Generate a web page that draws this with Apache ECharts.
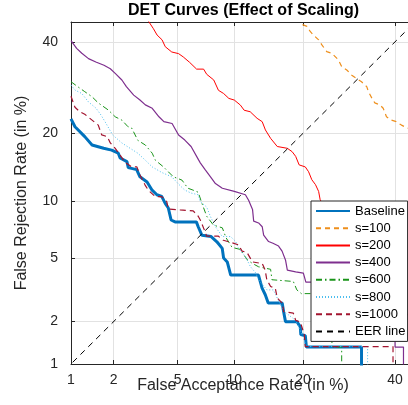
<!DOCTYPE html>
<html>
<head>
<meta charset="utf-8">
<script src="https://cdn.jsdelivr.net/npm/echarts@6/dist/echarts.min.js"></script>
<style>
  body { margin: 0; background: #fff; }
  #chart { width: 408px; height: 405px; }
</style>
</head>
<body>
<div id="chart"></div>
<script>
// tick labels (percent) used on both axes
const tickPct = [1, 2, 5, 10, 20, 40]
const axisMinPct = 1
const axisMaxPct = 45

// each curve: [false acceptance %, false rejection %]
const baseline = [[1.0,22.7],[1.07,21.2],[1.26,19.4],[1.42,17.95],[1.71,17.4],[1.94,17.1],[2.15,16.6],[2.21,15.85],[2.45,15.3],[2.5,14.4],[2.83,14.1],[2.97,13.1],[3.29,12.4],[3.52,11.4],[3.78,10.8],[4.04,10.6],[4.24,9.8],[4.42,9.3],[4.59,8.08],[4.84,7.9],[6.37,7.9],[6.52,7.45],[6.83,6.7],[7.64,6.6],[8.18,6.18],[8.71,5.68],[8.85,5.0],[9.23,4.75],[9.6,3.97],[12.99,3.97],[13.25,3.6],[13.48,3.3],[13.93,3.0],[14.35,2.66],[16.47,2.66],[16.7,2.33],[17.0,2.0],[18.9,2.0],[19.5,1.85],[19.6,1.63],[20.4,1.6],[20.6,1.33],[32.0,1.33],[32.0,0.9]]
const s100 = [[19.5,46.5],[19.8,44.4],[20.7,43.9],[21.3,42.6],[21.9,41.7],[22.9,40.5],[23.5,39.3],[24.5,37.6],[25.5,37.2],[26.9,35.6],[27.6,34.0],[28.7,33.2],[29.8,32.0],[30.9,31.2],[32.0,30.5],[33.2,29.4],[33.6,28.3],[34.4,26.9],[35.1,25.9],[36.3,25.5],[37.1,24.8],[37.9,23.1],[39.1,22.45],[40.3,22.15],[41.6,21.5],[42.4,21.2],[43.7,20.8],[46,20.3]]
const s200 = [[3.2,46.5],[3.6,43.3],[3.79,41.7],[4.06,40.5],[4.24,38.8],[4.63,37.5],[5.07,37.1],[5.39,36.3],[5.85,35.0],[6.39,33.4],[6.97,33.4],[7.24,32.2],[7.88,30.9],[8.33,28.6],[8.85,27.9],[9.4,26.85],[10.0,26.5],[10.7,25.45],[11.15,24.4],[11.9,24.1],[12.8,22.8],[13.5,22.15],[13.95,20.6],[14.7,19.1],[15.7,17.7],[17.3,17.4],[18.1,16.85],[18.7,16.1],[19.3,14.8],[20.4,14.5],[21.0,13.8],[21.6,12.7],[22.3,12.05],[22.9,11.2],[23.2,10.2],[25.3,8.6],[28.5,6.7],[31.9,5.2],[35.4,4.0],[39.1,3.0],[43.0,2.25],[47.0,1.6]]
const s400 = [[1.0,40.3],[1.1,38.4],[1.2,37.2],[1.34,35.9],[1.51,35.1],[1.72,34.3],[1.9,33.5],[2.05,32.4],[2.27,30.9],[2.43,29.4],[2.71,27.55],[2.97,26.5],[3.21,25.5],[3.54,24.8],[3.89,23.1],[4.16,22.15],[4.65,21.8],[5.07,19.7],[5.5,18.8],[5.96,17.7],[6.55,15.55],[6.69,15.1],[7.1,14.1],[7.58,13.1],[8.04,12.2],[8.72,11.6],[10.0,11.2],[11.3,10.8],[11.7,10.15],[12.2,9.15],[12.35,7.97],[13.0,7.8],[13.5,7.45],[13.7,6.72],[14.4,6.2],[15.05,6.06],[15.9,5.85],[16.45,5.48],[17.0,4.88],[17.3,4.25],[18.7,4.15],[20.05,4.08],[20.5,3.6],[21.8,3.6],[25.0,3.0],[29.5,2.4],[34.2,2.0],[37.6,1.7],[40.0,1.5],[40.0,1.33],[42.1,1.33],[42.1,0.9]]
const s600 = [[1.0,30.5],[1.12,29.4],[1.26,28.3],[1.42,27.2],[1.57,25.9],[1.84,24.45],[2.05,23.1],[2.27,22.45],[2.49,21.2],[2.63,20.95],[2.88,18.75],[3.21,17.95],[3.54,16.6],[3.7,15.5],[4.14,14.5],[4.42,13.8],[4.73,13.1],[5.3,12.65],[5.72,11.6],[6.1,11.37],[6.52,11.1],[6.83,9.8],[7.24,8.45],[7.85,7.6],[8.72,7.35],[9.09,6.52],[9.75,5.75],[10.7,5.6],[11.5,4.9],[12.2,4.65],[13.0,4.45],[13.5,4.4],[14.7,4.3],[14.9,3.72],[18.3,3.63],[18.9,3.22],[19.7,3.05],[21.3,3.05],[22.8,2.6],[24.2,2.04],[25.2,1.6],[25.8,1.33],[27.6,1.33],[27.6,0.9]]
const s800 = [[1.0,29.75],[1.07,28.65],[1.2,27.9],[1.34,26.1],[1.51,24.85],[1.64,23.45],[1.77,21.9],[1.97,19.7],[2.27,18.3],[2.57,17.4],[2.88,16.6],[3.21,15.5],[3.54,14.5],[4.04,13.7],[4.63,13.1],[5.03,12.2],[5.49,11.37],[5.96,11.0],[6.52,10.8],[6.69,10.0],[7.24,9.4],[7.58,8.4],[8.04,7.45],[8.72,6.6],[9.59,6.6],[10.15,6.2],[10.47,5.7],[11.3,5.1],[11.94,4.45],[12.6,4.1],[13.0,3.72],[14.15,3.22],[15.1,3.22],[15.7,2.86],[16.7,2.35],[18.7,2.04],[19.9,1.6],[20.6,1.34],[33.4,1.34],[33.4,0.9]]
const s1000 = [[1.0,27.3],[1.07,25.0],[1.16,24.1],[1.26,23.6],[1.42,22.45],[1.57,21.5],[1.66,19.7],[1.81,19.4],[1.9,18.3],[2.05,17.4],[2.21,16.3],[2.38,15.2],[2.63,14.5],[2.84,14.5],[2.97,13.35],[3.2,12.0],[3.35,11.35],[3.7,10.57],[4.04,10.57],[4.33,10.0],[4.42,9.2],[5.17,9.1],[6.12,9.0],[6.52,8.45],[6.69,8.08],[7.1,7.0],[7.23,6.64],[8.3,6.64],[8.82,6.3],[9.75,6.1],[10.45,5.95],[10.9,5.48],[11.5,5.38],[12.2,4.75],[13.5,4.65],[13.9,4.27],[14.15,3.72],[14.7,3.38],[15.4,3.3],[15.7,2.86],[16.5,2.65],[16.7,2.33],[18.3,2.28],[18.7,2.04],[19.5,1.99],[20.2,1.64],[20.4,1.34],[39.5,1.34],[39.5,0.9]]
const eerLine = [[0.9,0.9],[50,50]]

const fontFamily = "'Liberation Sans', Arial, Helvetica, sans-serif"

// inverse normal CDF (Acklam), DET plots use normal deviate scale
function probit(p) {
  const a = [-39.69683028665376, 220.9460984245205, -275.9285104469687, 138.3577518672690, -30.66479806614716, 2.506628274631000]
  const b = [-54.47609879822406, 161.5858368580409, -155.6989798598866, 66.80131188771972, -13.28068155288572]
  const c = [-0.007784894002430293, -0.3223964580411365, -2.400758277161838, -2.549732539343734, 4.374664141464968, 2.938163982698783]
  const d = [0.007784695709041462, 0.3224671290700398, 2.445134137142996, 3.754408661907416]
  const pl = 0.02425
  if (p < pl) {
    const q = Math.sqrt(-2 * Math.log(p))
    return (((((c[0]*q+c[1])*q+c[2])*q+c[3])*q+c[4])*q+c[5]) / ((((d[0]*q+d[1])*q+d[2])*q+d[3])*q+1)
  }
  if (p > 1 - pl) {
    const q = Math.sqrt(-2 * Math.log(1 - p))
    return -(((((c[0]*q+c[1])*q+c[2])*q+c[3])*q+c[4])*q+c[5]) / ((((d[0]*q+d[1])*q+d[2])*q+d[3])*q+1)
  }
  const q = p - 0.5, r = q * q
  return (((((a[0]*r+a[1])*r+a[2])*r+a[3])*r+a[4])*r+a[5])*q / (((((b[0]*r+b[1])*r+b[2])*r+b[3])*r+b[4])*r+1)
}

const toDev = list => list.map(v => [probit(v[0] / 100), probit(v[1] / 100)])
const tickDev = tickPct.map(v => probit(v / 100))
const labelFmt = val => {
  let best = 0
  tickDev.forEach((t, i) => { if (Math.abs(t - val) < Math.abs(tickDev[best] - val)) best = i })
  return String(tickPct[best])
}

const axisColor = '#262626'
const axisBase = {
  type: 'value',
  min: probit(axisMinPct / 100),
  max: probit(axisMaxPct / 100),
  axisLine: { show: true, onZero: false, lineStyle: { color: axisColor, width: 1 } },
  axisTick: { show: true, inside: true, length: 4, customValues: tickDev, lineStyle: { color: axisColor } },
  axisLabel: { customValues: tickDev, formatter: labelFmt, color: axisColor, fontSize: 14, fontFamily },
  splitLine: { show: true, lineStyle: { color: '#e2e2e2', width: 1 } }
}

// series style helper
const mkSeries = (name, data, color, width, type) => ({
  name,
  type: 'line',
  data: toDev(data),
  symbol: 'none',
  clip: true,
  lineStyle: { color, width, type },
  itemStyle: { color },
  emphasis: { disabled: true }
})

const chart = echarts.init(document.getElementById('chart'))
chart.setOption({
  animation: false,
  title: {
    text: 'DET Curves (Effect of Scaling)',
    left: 128,
    top: 3,
    padding: 0,
    textStyle: { fontSize: 16, fontWeight: 'bold', color: '#000', fontFamily }
  },
  grid: { left: 71, top: 22, width: 344, height: 342, outerBoundsMode: 'none', containLabel: false },
  xAxis: [
    Object.assign({}, axisBase, {
      name: 'False Acceptance Rate (in %)',
      nameLocation: 'middle',
      nameGap: 14,
      nameMoveOverlap: false,
      nameTextStyle: { fontSize: 16, color: axisColor, fontFamily },
      axisLabel: Object.assign({}, axisBase.axisLabel, { margin: 9 })
    }),
    Object.assign({}, axisBase, {
      position: 'top',
      axisLabel: { show: false },
      splitLine: { show: false }
    })
  ],
  yAxis: Object.assign({}, axisBase, {
    name: 'False Rejection Rate (in %)',
    nameLocation: 'middle',
    nameGap: 41,
    nameMoveOverlap: false,
    nameTextStyle: { fontSize: 16, color: axisColor, fontFamily },
    axisLabel: Object.assign({}, axisBase.axisLabel, { margin: 13 })
  }),
  legend: {
    orient: 'vertical',
    left: 311,
    top: 201,
    padding: [3, 2, 3, 4],
    itemWidth: 34,
    itemHeight: 14,
    itemGap: 3.2,
    backgroundColor: '#fff',
    borderColor: axisColor,
    borderWidth: 1,
    borderRadius: 0,
    itemStyle: { opacity: 0 },
    textStyle: { fontSize: 13, lineHeight: 14, color: '#000', fontFamily },
    data: ['Baseline', 's=100', 's=200', 's=400', 's=600', 's=800', 's=1000', 'EER line']
  },
  series: [
    mkSeries('Baseline', baseline, '#0072BD', 3, 'solid'),
    mkSeries('s=100', s100, '#EE8F1C', 1.2, [5, 4]),
    mkSeries('s=200', s200, '#FF0000', 1, 'solid'),
    mkSeries('s=400', s400, '#7E2F8E', 1.2, 'solid'),
    mkSeries('s=600', s600, '#1A941A', 1, [6, 3, 1.5, 3]),
    mkSeries('s=800', s800, '#4DBEEE', 1, [1, 2]),
    mkSeries('s=1000', s1000, '#A2142F', 1.2, [6, 4]),
    mkSeries('EER line', eerLine, '#000', 1, [6, 5])
  ]
})
</script>
</body>
</html>
